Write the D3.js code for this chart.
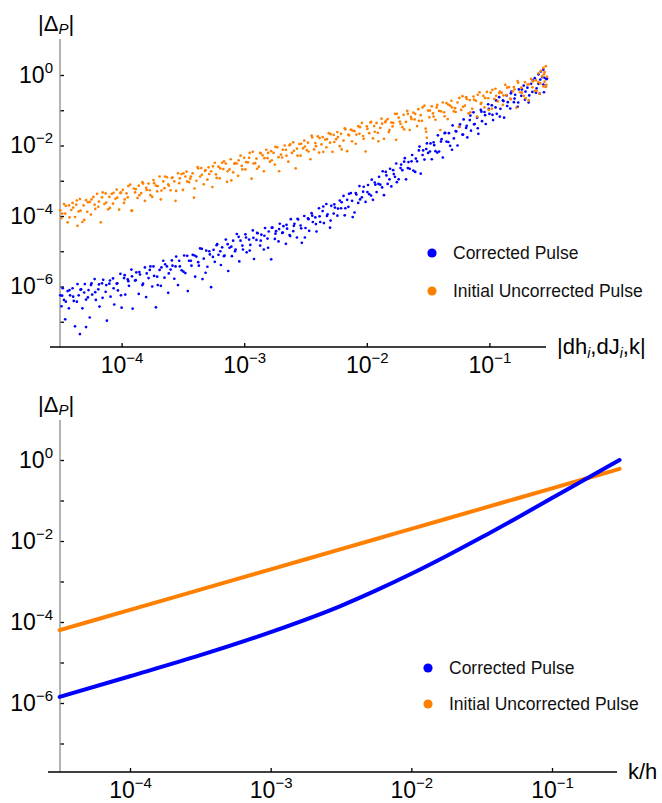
<!DOCTYPE html>
<html>
<head>
<meta charset="utf-8">
<script src="https://cdn.jsdelivr.net/npm/d3@7"></script>
<style>
  body { margin: 0; background: #fff; }
  svg { display: block; font-family: "Liberation Sans", Arial, sans-serif; }
</style>
</head>
<body>
<svg id="chart" width="662" height="803"></svg>
<script>
// all values are log10 of the plotted quantity

// top panel: [log10 |dh,dJ,k| , log10 |Delta_P|]
var correctedPts = [
  [-4.50,-6.25],[-4.49,-6.56],[-4.48,-6.05],[-4.47,-6.38],[-4.46,-6.93],[-4.44,-6.13],[-4.43,-6.62],[-4.42,-6.25],
  [-4.40,-6.05],[-4.39,-6.41],[-4.38,-7.13],[-4.36,-5.93],[-4.35,-6.25],[-4.34,-7.35],[-4.33,-6.08],[-4.32,-6.62],
  [-4.30,-5.93],[-4.29,-6.37],[-4.29,-7.15],[-4.27,-6.10],[-4.26,-6.88],[-4.25,-5.96],[-4.24,-6.23],[-4.22,-5.79],
  [-4.21,-6.38],[-4.19,-6.08],[-4.18,-6.57],[-4.16,-5.91],[-4.15,-5.81],[-4.13,-6.15],[-4.12,-6.97],[-4.10,-5.92],
  [-4.09,-6.29],[-4.07,-5.77],[-4.06,-6.51],[-4.04,-5.92],[-4.03,-6.11],[-4.01,-5.64],[-4.00,-6.60],[-3.98,-5.76],
  [-3.97,-6.23],[-3.95,-5.80],[-3.94,-5.98],[-3.92,-5.52],[-3.91,-6.63],[-3.89,-5.83],[-3.88,-5.60],[-3.86,-6.21],
  [-3.85,-5.66],[-3.83,-5.96],[-3.81,-5.46],[-3.80,-6.30],[-3.78,-5.76],[-3.77,-5.53],[-3.75,-6.00],[-3.74,-5.43],
  [-3.72,-6.59],[-3.71,-5.72],[-3.69,-5.53],[-3.68,-5.98],[-3.66,-5.27],[-3.65,-5.75],[-3.63,-5.43],[-3.62,-6.18],
  [-3.60,-5.52],[-3.59,-5.26],[-3.57,-5.78],[-3.56,-5.43],[-3.54,-5.96],[-3.53,-5.27],[-3.51,-5.54],[-3.49,-5.12],
  [-3.48,-5.62],[-3.46,-6.13],[-3.45,-5.27],[-3.43,-5.41],[-3.42,-5.10],[-3.40,-5.72],[-3.39,-5.15],[-3.37,-5.41],
  [-3.36,-4.92],[-3.34,-5.79],[-3.33,-5.21],[-3.31,-4.98],[-3.30,-5.44],[-3.28,-5.09],[-3.27,-6.02],[-3.25,-4.96],
  [-3.24,-5.30],[-3.22,-4.80],[-3.21,-5.10],[-3.19,-5.39],[-3.18,-4.89],[-3.16,-5.12],[-3.15,-4.67],[-3.13,-5.56],
  [-3.12,-4.90],[-3.10,-5.14],[-3.09,-4.70],[-3.07,-4.95],[-3.06,-4.51],[-3.04,-5.29],[-3.03,-4.70],[-3.01,-4.95],
  [-2.99,-4.52],[-2.98,-5.03],[-2.96,-4.67],[-2.95,-4.82],[-2.93,-4.41],[-2.92,-5.22],[-2.90,-4.68],[-2.89,-4.49],
  [-2.87,-4.84],[-2.86,-4.53],[-2.84,-4.95],[-2.83,-4.34],[-2.81,-4.64],[-2.80,-4.44],[-2.78,-5.23],[-2.77,-4.33],
  [-2.75,-4.65],[-2.74,-4.43],[-2.72,-4.72],[-2.71,-4.22],[-2.69,-4.48],[-2.68,-4.29],[-2.66,-4.79],[-2.65,-4.36],
  [-2.63,-4.54],[-2.62,-4.09],[-2.60,-4.43],[-2.59,-4.22],[-2.57,-4.61],[-2.56,-4.10],[-2.54,-4.27],[-2.53,-4.76],
  [-2.51,-4.00],[-2.50,-4.34],[-2.48,-4.07],[-2.47,-4.42],[-2.45,-3.92],[-2.44,-4.17],[-2.42,-4.04],[-2.41,-4.44],
  [-2.39,-3.78],[-2.38,-4.17],[-2.36,-3.86],[-2.35,-4.20],[-2.33,-3.66],[-2.32,-3.95],[-2.30,-4.33],[-2.29,-3.71],
  [-2.27,-3.93],[-2.26,-3.76],[-2.24,-3.99],[-2.22,-3.56],[-2.21,-3.78],[-2.19,-3.43],[-2.18,-3.98],[-2.16,-3.54],
  [-2.15,-3.74],[-2.13,-3.35],[-2.12,-3.57],[-2.10,-3.90],[-2.09,-3.35],[-2.07,-3.63],[-2.06,-3.15],[-2.04,-3.47],
  [-2.03,-3.31],[-2.01,-3.60],[-1.99,-3.12],[-1.98,-3.38],[-1.96,-2.97],[-1.95,-3.54],[-1.93,-3.11],[-1.92,-3.32],
  [-1.90,-2.89],[-1.89,-3.11],[-1.87,-2.73],[-1.86,-3.41],[-1.84,-2.85],[-1.83,-3.09],[-1.81,-2.66],[-1.80,-3.16],
  [-1.78,-2.81],[-1.77,-2.89],[-1.76,-2.51],[-1.74,-2.96],[-1.72,-2.54],[-1.71,-2.70],[-1.69,-2.36],[-1.68,-2.96],
  [-1.66,-2.47],[-1.65,-2.66],[-1.63,-2.27],[-1.62,-2.71],[-1.60,-2.37],[-1.59,-2.45],[-1.57,-2.03],[-1.56,-2.80],
  [-1.54,-2.14],[-1.53,-2.40],[-1.51,-1.94],[-1.50,-2.21],[-1.48,-1.94],[-1.47,-2.39],[-1.45,-1.99],[-1.44,-2.16],
  [-1.42,-1.71],[-1.41,-2.17],[-1.39,-1.82],[-1.38,-2.34],[-1.36,-1.64],[-1.35,-1.89],[-1.33,-1.65],[-1.32,-2.01],
  [-1.30,-1.43],[-1.29,-1.80],[-1.27,-1.60],[-1.26,-2.00],[-1.24,-1.40],[-1.22,-1.69],[-1.21,-1.26],[-1.19,-1.50],
  [-1.18,-1.77],[-1.16,-1.28],[-1.15,-1.58],[-1.13,-1.06],[-1.12,-1.39],[-1.10,-1.21],[-1.09,-1.67],[-1.07,-0.99],
  [-1.06,-1.31],[-1.04,-1.05],[-1.03,-1.39],[-1.01,-0.83],[-1.00,-1.10],[-0.98,-0.86],[-0.97,-1.28],[-0.95,-0.92],
  [-0.94,-1.10],[-0.92,-0.63],[-0.91,-0.96],[-0.89,-0.72],[-0.88,-1.21],[-0.86,-0.58],[-0.85,-0.77],[-0.83,-0.95],
  [-0.82,-0.47],[-0.80,-0.77],[-0.79,-0.56],[-0.77,-0.90],[-0.76,-0.41],[-0.74,-0.59],[-0.72,-0.30],[-0.71,-0.70],
  [-0.69,-0.36],[-0.68,-0.78],[-0.66,-0.25],[-0.65,-0.48],[-0.63,-0.09],[-0.62,-0.50],[-0.60,-0.25],[-0.60,0.02],
  [-0.59,-0.53],[-0.58,0.10],[-0.57,-0.06],[-0.56,-0.27],[-0.56,0.15],[-0.55,-0.08],[-0.54,-0.33],[-0.53,-0.10],
  [-4.485,-6.26],[-4.455,-6.43],[-4.425,-6.10],[-4.395,-6.29],[-4.365,-6.43],[-4.335,-6.09],[-4.305,-6.17],[-4.275,-6.31],
  [-4.245,-5.91],[-4.215,-6.16],[-4.185,-5.94],[-4.155,-6.32],[-4.125,-5.96],[-4.095,-5.83],[-4.065,-6.05],[-4.035,-5.91],
  [-4.005,-6.25],[-3.975,-5.68],[-3.945,-5.85],[-3.915,-5.71],[-3.885,-5.82],[-3.855,-5.59],[-3.825,-5.92],[-3.795,-5.63],
  [-3.765,-5.43],[-3.735,-5.70],[-3.705,-5.96],[-3.675,-5.46],[-3.645,-5.37],[-3.615,-5.63],[-3.585,-5.41],[-3.555,-5.15],
  [-3.525,-5.43],[-3.495,-5.58],[-3.465,-5.13],[-3.435,-5.27],[-3.405,-5.12],[-3.375,-5.31],[-3.345,-4.93],[-3.315,-5.61],
  [-3.285,-5.00],[-3.255,-5.16],[-3.225,-4.83],[-3.195,-5.00],[-3.165,-5.14],[-3.135,-4.80],[-3.105,-4.87],[-3.075,-5.00],
  [-3.045,-4.59],[-3.015,-4.84],[-2.985,-4.61],[-2.955,-4.98],[-2.925,-4.62],[-2.895,-4.48],[-2.865,-4.70],[-2.835,-4.56],
  [-2.805,-4.90],[-2.775,-4.33],[-2.745,-4.50],[-2.715,-4.37],[-2.685,-4.47],[-2.655,-4.25],[-2.625,-4.57],[-2.595,-4.28],
  [-2.565,-4.08],[-2.535,-4.35],[-2.505,-4.61],[-2.475,-4.09],[-2.445,-3.99],[-2.415,-4.23],[-2.385,-4.01],[-2.355,-3.73],
  [-2.325,-4.00],[-2.295,-4.13],[-2.265,-3.67],[-2.235,-3.79],[-2.205,-3.61],[-2.175,-3.78],[-2.145,-3.37],[-2.115,-4.03],
  [-2.085,-3.39],[-2.055,-3.53],[-2.025,-3.17],[-1.995,-3.32],[-1.965,-3.42],[-1.935,-3.05],[-1.905,-3.09],[-1.875,-3.19],
  [-1.845,-2.75],[-1.815,-2.96],[-1.785,-2.70],[-1.755,-3.04],[-1.725,-2.64],[-1.695,-2.46],[-1.665,-2.64],[-1.635,-2.45],
  [-1.605,-2.75],[-1.575,-2.14],[-1.545,-2.27],[-1.515,-2.10],[-1.485,-2.17],[-1.455,-1.91],[-1.425,-2.20],[-1.395,-1.89],
  [-1.365,-1.65],[-1.335,-1.90],[-1.305,-2.12],[-1.275,-1.59],[-1.245,-1.47],[-1.215,-1.69],[-1.185,-1.44],[-1.155,-1.15],
  [-1.125,-1.40],[-1.095,-1.51],[-1.065,-1.04],[-1.035,-1.14],[-1.005,-0.96],[-0.975,-1.13],[-0.945,-0.72],[-0.915,-1.18],
  [-0.885,-0.74],[-0.855,-0.88],[-0.825,-0.52],[-0.795,-0.67],[-0.765,-0.78],[-0.735,-0.41],[-0.705,-0.47],[-0.675,-0.58],
  [-0.645,-0.16],[-0.615,-0.38],[-0.585,-0.13],[-0.555,-0.49],[-0.535,-0.12]
];
var uncorrectedPts = [
  [-4.50,-3.84],[-4.49,-4.06],[-4.47,-3.66],[-4.46,-3.93],[-4.44,-4.18],[-4.43,-3.70],[-4.41,-3.83],[-4.40,-3.63],
  [-4.38,-4.03],[-4.37,-3.68],[-4.36,-4.28],[-4.35,-3.87],[-4.34,-3.52],[-4.32,-4.17],[-4.31,-3.70],[-4.29,-3.55],
  [-4.28,-3.88],[-4.26,-3.60],[-4.25,-3.96],[-4.23,-3.46],[-4.22,-3.68],[-4.20,-3.37],[-4.19,-3.74],[-4.17,-4.18],
  [-4.16,-3.47],[-4.14,-3.66],[-4.13,-3.36],[-4.11,-3.81],[-4.10,-3.46],[-4.08,-3.37],[-4.07,-3.65],[-4.05,-3.51],
  [-4.04,-3.25],[-4.02,-3.82],[-4.01,-3.35],[-3.99,-3.26],[-3.98,-3.63],[-3.96,-3.36],[-3.95,-3.47],[-3.93,-3.11],
  [-3.92,-3.85],[-3.90,-3.22],[-3.89,-3.33],[-3.87,-3.49],[-3.86,-3.14],[-3.84,-3.35],[-3.83,-3.04],[-3.81,-3.57],
  [-3.80,-3.20],[-3.78,-3.08],[-3.77,-3.27],[-3.75,-3.46],[-3.74,-2.98],[-3.72,-3.14],[-3.71,-3.30],[-3.69,-2.88],
  [-3.68,-3.53],[-3.66,-3.02],[-3.65,-3.21],[-3.63,-2.90],[-3.62,-3.10],[-3.60,-3.27],[-3.59,-2.92],[-3.57,-3.02],
  [-3.56,-3.57],[-3.54,-2.79],[-3.53,-3.07],[-3.51,-2.81],[-3.50,-3.26],[-3.48,-2.88],[-3.47,-2.74],[-3.45,-3.04],
  [-3.44,-2.94],[-3.42,-2.79],[-3.41,-3.48],[-3.39,-3.00],[-3.38,-2.61],[-3.36,-2.88],[-3.35,-2.64],[-3.33,-3.10],
  [-3.32,-2.72],[-3.30,-2.97],[-3.29,-2.62],[-3.27,-2.73],[-3.26,-3.18],[-3.24,-2.49],[-3.23,-2.82],[-3.21,-2.60],
  [-3.20,-2.93],[-3.18,-2.49],[-3.17,-2.67],[-3.15,-2.51],[-3.14,-3.03],[-3.12,-2.68],[-3.11,-2.39],[-3.09,-2.76],
  [-3.08,-2.52],[-3.06,-2.51],[-3.05,-2.86],[-3.03,-2.29],[-3.02,-2.58],[-3.00,-2.35],[-2.99,-2.68],[-2.97,-2.48],
  [-2.96,-2.35],[-2.94,-2.94],[-2.93,-2.18],[-2.91,-2.50],[-2.90,-2.37],[-2.88,-2.60],[-2.87,-2.21],[-2.85,-2.28],
  [-2.84,-2.73],[-2.82,-2.12],[-2.81,-2.36],[-2.79,-2.46],[-2.78,-2.16],[-2.76,-2.21],[-2.75,-2.54],[-2.73,-2.05],
  [-2.72,-2.33],[-2.70,-2.26],[-2.69,-2.34],[-2.67,-2.00],[-2.66,-2.12],[-2.64,-2.46],[-2.63,-1.99],[-2.61,-2.21],
  [-2.60,-1.91],[-2.58,-2.65],[-2.57,-2.09],[-2.55,-1.96],[-2.54,-2.29],[-2.52,-2.08],[-2.51,-1.86],[-2.49,-2.13],
  [-2.48,-1.92],[-2.46,-2.39],[-2.45,-1.72],[-2.43,-2.11],[-2.42,-1.93],[-2.40,-1.74],[-2.39,-2.20],[-2.37,-1.97],
  [-2.36,-1.76],[-2.34,-1.83],[-2.33,-2.05],[-2.31,-1.65],[-2.30,-1.92],[-2.28,-2.18],[-2.27,-1.70],[-2.25,-1.82],
  [-2.24,-1.62],[-2.22,-2.02],[-2.21,-1.67],[-2.19,-1.86],[-2.18,-1.51],[-2.16,-2.16],[-2.15,-1.69],[-2.13,-1.55],
  [-2.12,-1.88],[-2.10,-1.59],[-2.09,-1.95],[-2.07,-1.45],[-2.06,-1.67],[-2.04,-1.36],[-2.03,-1.73],[-2.01,-2.17],
  [-2.00,-1.46],[-1.98,-1.65],[-1.97,-1.35],[-1.95,-1.80],[-1.94,-1.45],[-1.92,-1.36],[-1.91,-1.64],[-1.89,-1.50],
  [-1.88,-1.24],[-1.86,-1.81],[-1.85,-1.34],[-1.83,-1.25],[-1.82,-1.62],[-1.80,-1.35],[-1.79,-1.46],[-1.77,-1.10],
  [-1.76,-1.84],[-1.74,-1.21],[-1.73,-1.32],[-1.71,-1.48],[-1.70,-1.13],[-1.68,-1.33],[-1.67,-1.02],[-1.65,-1.56],
  [-1.64,-1.19],[-1.62,-1.07],[-1.61,-1.26],[-1.59,-1.45],[-1.58,-0.97],[-1.56,-1.14],[-1.55,-1.30],[-1.53,-0.87],
  [-1.52,-1.52],[-1.51,-1.78],[-1.50,-1.01],[-1.49,-1.20],[-1.47,-0.89],[-1.46,-1.09],[-1.44,-1.27],[-1.43,-0.92],
  [-1.41,-1.02],[-1.40,-1.56],[-1.38,-0.78],[-1.37,-1.06],[-1.35,-0.80],[-1.34,-1.25],[-1.32,-0.87],[-1.31,-0.73],
  [-1.29,-1.03],[-1.28,-0.94],[-1.26,-0.78],[-1.25,-1.47],[-1.23,-0.99],[-1.22,-0.60],[-1.20,-0.87],[-1.19,-0.63],
  [-1.17,-1.09],[-1.16,-0.71],[-1.14,-0.96],[-1.13,-0.61],[-1.11,-0.73],[-1.10,-1.18],[-1.08,-0.49],[-1.07,-0.82],
  [-1.05,-0.59],[-1.04,-0.92],[-1.02,-0.48],[-1.01,-0.66],[-0.99,-0.50],[-0.98,-0.96],[-0.96,-0.68],[-0.95,-0.39],
  [-0.93,-0.75],[-0.92,-0.51],[-0.90,-0.50],[-0.89,-0.85],[-0.87,-0.28],[-0.86,-0.57],[-0.84,-0.34],[-0.83,-0.67],
  [-0.81,-0.47],[-0.80,-0.34],[-0.78,-0.93],[-0.77,-0.17],[-0.75,-0.49],[-0.74,-0.36],[-0.72,-0.59],[-0.71,-0.20],
  [-0.69,-0.27],[-0.68,-0.72],[-0.66,-0.11],[-0.65,-0.35],[-0.63,-0.45],[-0.62,-0.15],[-0.60,-0.20],[-0.60,0.05],
  [-0.59,-0.53],[-0.58,0.12],[-0.57,-0.04],[-0.56,-0.32],[-0.56,0.20],[-0.55,-0.19],[-0.55,0.08],[-0.54,-0.34],
  [-0.54,0.25],[-0.53,-0.05],
  [-4.485,-3.93],[-4.455,-3.71],[-4.425,-4.04],[-4.395,-3.76],[-4.365,-3.56],[-4.335,-3.85],[-4.305,-4.11],[-4.275,-3.61],
  [-4.245,-3.53],[-4.215,-3.80],[-4.185,-3.59],[-4.155,-3.33],[-4.125,-3.62],[-4.095,-3.77],[-4.065,-3.34],[-4.035,-3.48],
  [-4.005,-3.33],[-3.975,-3.53],[-3.945,-3.15],[-3.915,-3.85],[-3.885,-3.24],[-3.855,-3.41],[-3.825,-3.08],[-3.795,-3.26],
  [-3.765,-3.41],[-3.735,-3.07],[-3.705,-3.15],[-3.675,-3.28],[-3.645,-2.88],[-3.615,-3.14],[-3.585,-2.91],[-3.555,-3.29],
  [-3.525,-2.93],[-3.495,-2.79],[-3.465,-3.02],[-3.435,-2.88],[-3.405,-3.22],[-3.375,-2.65],[-3.345,-2.83],[-3.315,-2.70],
  [-3.285,-2.81],[-3.255,-2.59],[-3.225,-2.92],[-3.195,-2.65],[-3.165,-2.45],[-3.135,-2.73],[-3.105,-2.99],[-3.075,-2.50],
  [-3.045,-2.42],[-3.015,-2.68],[-2.985,-2.47],[-2.955,-2.21],[-2.925,-2.51],[-2.895,-2.66],[-2.865,-2.22],[-2.835,-2.36],
  [-2.805,-2.21],[-2.775,-2.42],[-2.745,-2.04],[-2.715,-2.73],[-2.685,-2.12],[-2.655,-2.29],[-2.625,-1.97],[-2.595,-2.15],
  [-2.565,-2.29],[-2.535,-1.95],[-2.505,-2.03],[-2.475,-2.17],[-2.445,-1.77],[-2.415,-2.02],[-2.385,-1.79],[-2.355,-2.18],
  [-2.325,-1.82],[-2.295,-1.68],[-2.265,-1.90],[-2.235,-1.76],[-2.205,-2.11],[-2.175,-1.54],[-2.145,-1.71],[-2.115,-1.58],
  [-2.085,-1.69],[-2.055,-1.48],[-2.025,-1.81],[-1.995,-1.53],[-1.965,-1.33],[-1.935,-1.61],[-1.905,-1.88],[-1.875,-1.38],
  [-1.845,-1.30],[-1.815,-1.56],[-1.785,-1.36],[-1.755,-1.10],[-1.725,-1.39],[-1.695,-1.54],[-1.665,-1.10],[-1.635,-1.25],
  [-1.605,-1.10],[-1.575,-1.30],[-1.545,-0.92],[-1.515,-1.61],[-1.485,-1.01],[-1.455,-1.18],[-1.425,-0.85],[-1.395,-1.03],
  [-1.365,-1.17],[-1.335,-0.84],[-1.305,-0.92],[-1.275,-1.05],[-1.245,-0.65],[-1.215,-0.90],[-1.185,-0.68],[-1.155,-1.06],
  [-1.125,-0.70],[-1.095,-0.56],[-1.065,-0.79],[-1.035,-0.65],[-1.005,-0.99],[-0.975,-0.42],[-0.945,-0.59],[-0.915,-0.47],
  [-0.885,-0.58],[-0.855,-0.36],[-0.825,-0.69],[-0.795,-0.41],[-0.765,-0.22],[-0.735,-0.50],[-0.705,-0.66],[-0.675,-0.26],
  [-0.645,-0.18],[-0.615,-0.45],[-0.585,-0.24],[-0.555,0.02],[-0.535,-0.28]
];

// bottom panel: log10 k/h and the two curves
var ratioExp        = [-4.5, -4.0, -3.5, -3.0, -2.5, -2.25, -2.0, -1.75, -1.5, -1.25, -1.0, -0.75, -0.52];
var correctedLine   = [-5.85, -5.34, -4.82, -4.25, -3.60, -3.22, -2.81, -2.37, -1.91, -1.43, -0.94, -0.45, 0.0];
var uncorrectedLine = [-4.20, -3.70, -3.20, -2.70, -2.20, -1.95, -1.70, -1.45, -1.20, -0.95, -0.70, -0.45, -0.22];

var seriesNames = ["Corrected Pulse", "Initial Uncorrected Pulse"];
var xTickExp = [-4, -3, -2, -1];
var yTickExp = [0, -2, -4, -6];
var yMinorExp = [-1, -3, -5, -7];

var blue = "#0000ff", orange = "#ff8000";
var pow10 = function (e) { return Math.pow(10, e); };

var svg = d3.select("#chart");

// writes 10^e into a tick text
var powLabel = function (textSel, e) {
  textSel.text(null);
  textSel.append("tspan").text("10");
  textSel.append("tspan").attr("font-size", 15).attr("dy", -10)
    .text(e === 0 ? "0" : "\u2212" + Math.abs(e));
};

/**
 * axes, labels and legend for one panel
 */
var drawFrame = function (p) {
  var g = svg.append("g");

  // y axis
  var yAxis = d3.axisLeft(p.y)
    .tickValues(yTickExp.concat(yMinorExp).map(pow10))
    .tickSizeInner(-4).tickSizeOuter(0).tickPadding(7)
    .tickFormat(function () { return ""; });
  var yg = g.append("g").attr("transform", "translate(" + p.x0 + ",0)").call(yAxis);
  yg.select(".domain").remove();
  yg.selectAll(".tick line").attr("stroke", "#000").attr("stroke-width", 1.3);
  yg.selectAll(".tick text").attr("font-size", 23).attr("fill", "#000")
    .attr("font-family", "Liberation Sans, Arial, sans-serif")
    .each(function (d) {
      var e = Math.round(Math.log10(d));
      if (yTickExp.indexOf(e) >= 0) powLabel(d3.select(this), e);
    });
  g.append("line")
    .attr("x1", p.x0).attr("x2", p.x0).attr("y1", p.yTop).attr("y2", p.y0)
    .attr("stroke", "#8a8a8a").attr("stroke-width", 1.3);

  // x axis
  var xAxis = d3.axisBottom(p.x)
    .tickValues(xTickExp.map(pow10))
    .tickSizeInner(-4).tickSizeOuter(0)
    .tickFormat(function () { return ""; });
  var xg = g.append("g").attr("transform", "translate(0," + p.y0 + ")").call(xAxis);
  xg.select(".domain").remove();
  xg.selectAll(".tick line").attr("stroke", "#000").attr("stroke-width", 1.3);
  xg.selectAll(".tick text").attr("font-size", 23).attr("fill", "#000")
    .attr("font-family", "Liberation Sans, Arial, sans-serif")
    .attr("y", 26).attr("dy", 0)
    .each(function (d) { powLabel(d3.select(this), Math.round(Math.log10(d))); });
  g.append("line")
    .attr("x1", p.xLeft).attr("x2", p.xRight).attr("y1", p.y0).attr("y2", p.y0)
    .attr("stroke", "#000").attr("stroke-width", 1.3);

  // |Delta_P|
  var yl = g.append("text").attr("x", 38).attr("y", p.yTop - 8).attr("font-size", 22);
  yl.append("tspan").text("|\u0394");
  yl.append("tspan").attr("font-size", 15).attr("font-style", "italic").attr("dy", 3).text("P");
  yl.append("tspan").attr("dy", -3).text("|");

  // x label
  var xl = g.append("text").attr("x", p.xRight + 11).attr("y", p.y0 + 7).attr("font-size", 22);
  p.xLabel(xl);

  // legend
  var leg = g.selectAll(".leg").data(seriesNames).enter().append("g")
    .attr("transform", function (d, i) { return "translate(" + p.legX + "," + (p.legY + i * p.legGap) + ")"; });
  leg.append("circle").attr("r", 4.6)
    .attr("fill", function (d, i) { return i === 0 ? blue : orange; });
  leg.append("text").attr("x", 21).attr("y", 6).attr("font-size", 17.5).attr("fill", "#111")
    .text(function (d) { return d; });
};

// ---------- top panel: scatter ----------
var topP = {
  x: d3.scaleLog().domain([1e-4, 1e-1]).range([121.6, 489.4]),
  y: d3.scaleLog().domain([1, 1e-6]).range([75, 286.5]),
  x0: 60, y0: 347, yTop: 39, xLeft: 50, xRight: 546,
  legX: 432, legY: 253, legGap: 38,
  xLabel: function (t) {
    t.append("tspan").text("|dh");
    t.append("tspan").attr("font-size", 14).attr("font-style", "italic").attr("dy", 4).text("i");
    t.append("tspan").attr("dy", -4).text(",dJ");
    t.append("tspan").attr("font-size", 14).attr("font-style", "italic").attr("dy", 4).text("i");
    t.append("tspan").attr("dy", -4).text(",k|");
  }
};
drawFrame(topP);

svg.append("g").selectAll("circle").data(correctedPts).enter().append("circle")
  .attr("cx", function (d) { return topP.x(pow10(d[0])); })
  .attr("cy", function (d) { return topP.y(pow10(d[1])); })
  .attr("r", 1.35).attr("fill", blue);
svg.append("g").selectAll("circle").data(uncorrectedPts).enter().append("circle")
  .attr("cx", function (d) { return topP.x(pow10(d[0])); })
  .attr("cy", function (d) { return topP.y(pow10(d[1])); })
  .attr("r", 1.35).attr("fill", orange);

// ---------- bottom panel: curves ----------
var botP = {
  x: d3.scaleLog().domain([1e-4, 1e-1]).range([130, 552]),
  y: d3.scaleLog().domain([1, 1e-6]).range([460, 703]),
  x0: 60, y0: 772, yTop: 420, xLeft: 48, xRight: 617,
  legX: 428, legY: 668, legGap: 36,
  xLabel: function (t) { t.text("k/h"); }
};
drawFrame(botP);

var drawCurve = function (vals, colour) {
  var line = d3.line()
    .x(function (d, i) { return botP.x(pow10(ratioExp[i])); })
    .y(function (d) { return botP.y(pow10(d)); })
    .curve(d3.curveMonotoneX);
  svg.append("path").attr("d", line(vals))
    .attr("fill", "none").attr("stroke", colour)
    .attr("stroke-width", 4).attr("stroke-linecap", "round");
};
drawCurve(uncorrectedLine, orange);
drawCurve(correctedLine, blue);
</script>
</body>
</html>
